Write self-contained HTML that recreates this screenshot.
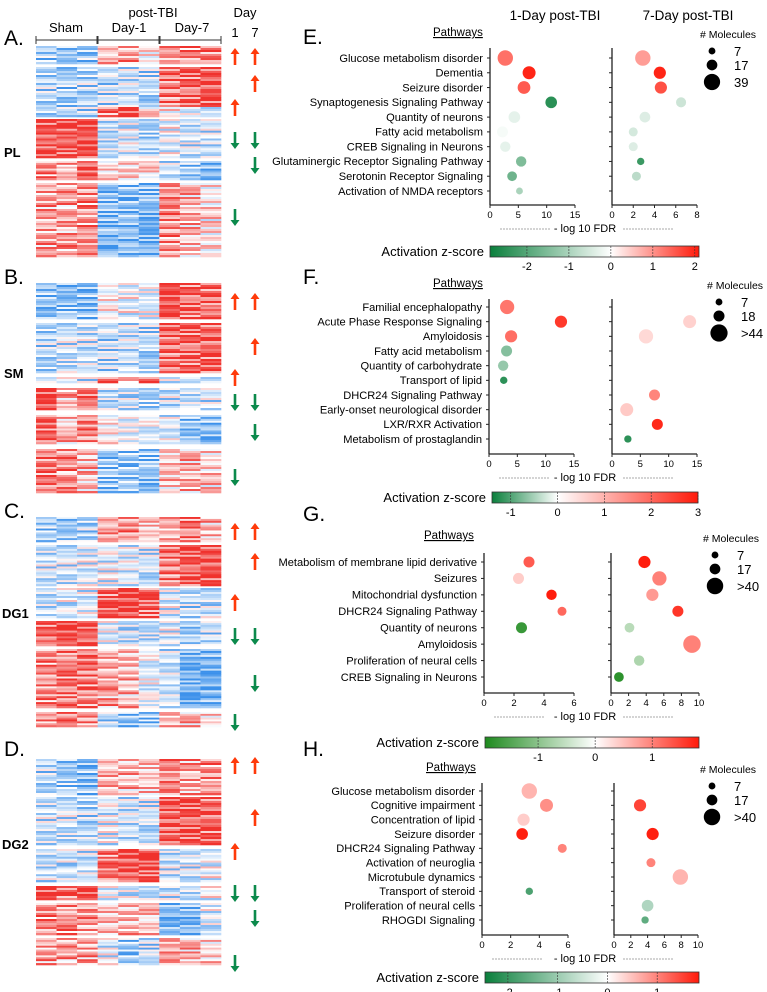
<!DOCTYPE html>
<html><head><meta charset="utf-8">
<style>
html,body{margin:0;padding:0;background:#fff;}
svg{display:block;font-family:"Liberation Sans",Arial,sans-serif;}
</style></head>
<body>
<svg id="fig" width="767" height="992" viewBox="0 0 767 992" xmlns="http://www.w3.org/2000/svg">
<defs>
<linearGradient id="cbE" x1="0" x2="1"><stop offset="0" stop-color="#0a7f3c"/><stop offset="0.578" stop-color="#ffffff"/><stop offset="1" stop-color="#ff1a0a"/></linearGradient>
<linearGradient id="cbF" x1="0" x2="1"><stop offset="0" stop-color="#0a7f3c"/><stop offset="0.318" stop-color="#ffffff"/><stop offset="1" stop-color="#ff1a0a"/></linearGradient>
<linearGradient id="cbG" x1="0" x2="1"><stop offset="0" stop-color="#1e8a1e"/><stop offset="0.515" stop-color="#ffffff"/><stop offset="1" stop-color="#ff1a0a"/></linearGradient>
<linearGradient id="cbH" x1="0" x2="1"><stop offset="0" stop-color="#0a7f3c"/><stop offset="0.572" stop-color="#ffffff"/><stop offset="1" stop-color="#ff1a0a"/></linearGradient>
</defs>
</svg>
<script>
// ===== Heatmap data: blocks [y0, y1, 9 column values (-1 blue .. 1 red)] =====
const hmA = [[46,64,[-.5,-.5,-.5,.4,.4,.1,.4,.5,.6]],[67,107,[-.4,-.5,-.4,-.4,-.3,-.4,.6,.7,.8]],[107,117,[-.4,-.4,-.4,.6,.8,.2,.1,-.2,-.2]],[119,158,[.8,.8,.8,-.3,-.2,-.4,-.1,-.3,-.3]],[161,180,[.5,.4,.7,.2,.2,.2,-.3,-.5,-.7]],[183,257,[.4,.4,.5,-.7,-.6,-.7,.5,.3,.1]]];
const hmB = [[283,319,[-.6,-.6,-.6,.1,-.1,-.1,.8,.7,.7]],[323,373,[-.4,-.3,-.3,-.4,-.3,-.4,.7,.7,.7]],[377,383,[-.3,-.2,-.3,.6,.3,.8,-.2,-.2,-.2]],[388,410,[.9,.3,.6,-.3,-.3,-.4,-.3,-.3,-.3]],[415,444,[.7,.3,.5,.1,-.1,-.1,-.2,-.6,-.6]],[449,493,[.6,.5,.3,-.6,-.5,-.6,.2,.3,.2]]];
const hmC = [[517,542,[-.5,-.5,-.4,.5,.5,.3,.3,.6,.3]],[545,586,[-.3,-.3,-.2,-.2,-.2,-.3,.6,.8,.8]],[588,618,[-.3,-.2,-.2,.7,.9,.7,-.2,-.4,-.3]],[621,646,[.7,.9,.7,-.1,-.3,-.3,-.2,-.5,-.4]],[649,708,[.5,.6,.6,.4,.3,-.1,-.3,-.8,-.7]],[712,727,[.5,.6,.5,-.4,-.6,-.6,.3,.3,.2]]];
const hmD = [[759,795,[-.4,-.5,-.6,.4,.3,.3,.5,.4,.5]],[797,845,[-.3,-.3,-.4,-.2,-.3,-.3,.8,.8,.7]],[849,882,[-.3,-.3,-.3,.6,.8,.8,-.3,-.3,-.1]],[886,900,[.9,.6,.8,-.1,-.2,-.3,-.3,-.3,-.1]],[903,935,[.5,.5,.4,.3,.3,.3,-.7,-.7,-.2]],[938,965,[.4,.4,.4,-.2,-.5,-.4,.4,.3,.2]]];
// arrows: [y, dayColumn(1|7), dir(1 up,-1 down)]
const arA = [[57,1,1],[57,7,1],[84,7,1],[108,1,1],[140,1,-1],[140,7,-1],[165,7,-1],[217,1,-1]];
const arB = [[302,1,1],[302,7,1],[347,7,1],[378,1,1],[402,1,-1],[402,7,-1],[432,7,-1],[477,1,-1]];
const arC = [[532,1,1],[532,7,1],[562,7,1],[603,1,1],[636,1,-1],[636,7,-1],[683,7,-1],[722,1,-1]];
const arD = [[766,1,1],[766,7,1],[818,7,1],[852,1,1],[893,1,-1],[893,7,-1],[918,7,-1],[963,1,-1]];

// ===== Bubble chart data =====
const eLabels = ["Glucose metabolism disorder","Dementia","Seizure disorder","Synaptogenesis Signaling Pathway","Quantity of neurons","Fatty acid metabolism","CREB Signaling in Neurons","Glutaminergic Receptor Signaling Pathway","Serotonin Receptor Signaling","Activation of NMDA receptors"];
const eFdr1 = [2.7,6.9,6.0,10.8,4.3,2.2,2.7,5.5,3.9,5.2];
const eZ1 = [1.3,2.0,1.5,-2.5,-0.3,-0.1,-0.3,-1.5,-1.7,-1.0];
const eN1 = [35,25,24,20,20,18,16,16,14,7];
const eFdr7 = [2.9,4.5,4.6,6.5,3.1,2.0,2.0,2.7,2.3,null];
const eZ7 = [0.9,2.0,1.6,-0.6,-0.4,-0.5,-0.4,-2.3,-0.8,null];
const eN7 = [35,22,22,15,17,12,12,8,12,null];

const fLabels = ["Familial encephalopathy","Acute Phase Response Signaling","Amyloidosis","Fatty acid metabolism","Quantity of carbohydrate","Transport of lipid","DHCR24 Signaling Pathway","Early-onset neurological disorder","LXR/RXR Activation","Metabolism of prostaglandin"];
const fFdr1 = [3.2,12.7,3.9,3.1,2.5,2.6,null,null,null,null];
const fZ1 = [1.8,2.6,1.9,-0.7,-0.6,-1.2,null,null,null,null];
const fN1 = [30,22,22,18,16,8,null,null,null,null];
const fFdr7 = [null,13.7,6.0,null,null,null,7.5,2.6,8.0,2.8];
const fZ7 = [null,0.6,0.5,null,null,null,1.6,0.7,2.8,-1.2];
const fN7 = [null,25,30,null,null,null,18,25,18,8];

const gLabels = ["Metabolism of membrane lipid derivative","Seizures","Mitochondrial dysfunction","DHCR24 Signaling Pathway","Quantity of neurons","Amyloidosis","Proliferation of neural cells","CREB Signaling in Neurons"];
const gFdr1 = [3.0,2.3,4.5,5.2,2.5,null,null,null];
const gZ1 = [1.3,0.4,1.8,1.2,-1.7,null,null,null];
const gN1 = [18,18,16,12,18,null,null,null];
const gFdr7 = [3.8,5.5,4.7,7.6,2.1,9.2,3.2,0.9];
const gZ7 = [1.8,1.0,0.8,1.6,-0.6,1.0,-0.7,-1.8];
const gN7 = [22,30,22,18,14,45,16,14];

const hLabels = ["Glucose metabolism disorder","Cognitive impairment","Concentration of lipid","Seizure disorder","DHCR24 Signaling Pathway","Activation of neuroglia","Microtubule dynamics","Transport of steroid","Proliferation of neural cells","RHOGDI Signaling"];
const hFdr1 = [3.3,4.5,2.9,2.8,5.6,null,null,3.3,null,null];
const hZ1 = [0.6,0.9,0.4,1.8,1.0,null,null,-1.8,null,null];
const hN1 = [35,25,22,20,12,null,null,8,null,null];
const hFdr7 = [null,3.1,null,4.6,null,4.4,7.9,null,4.0,3.7];
const hZ7 = [null,1.5,null,1.8,null,1.0,0.6,null,-0.8,-1.6];
const hN7 = [null,22,null,22,null,12,35,null,20,8];

const eTicks1=[0,5,10,15], eTicks7=[0,2,4,6,8], eZt=[-2,-1,0,1,2];
const fTicks1=[0,5,10,15], fTicks7=[0,5,10,15], fZt=[-1,0,1,2,3];
const gTicks1=[0,2,4,6], gTicks7=[0,2,4,6,8,10], gZt=[-1,0,1];
const hTicks1=[0,2,4,6], hTicks7=[0,2,4,6,8,10], hZt=[-2,-1,0,1];
const eLegN=[7,17,39], eLegL=["7","17","39"];
const fLegN=[7,18,44], fLegL=["7","18",">44"];
const gLegN=[7,17,40], gLegL=["7","17",">40"];
const hLegN=[7,17,40], hLegL=["7","17",">40"];

const NS="http://www.w3.org/2000/svg";
const svg=document.getElementById('fig');
function el(tag,attrs,parent,txt){const e=document.createElementNS(NS,tag);for(const k in attrs)e.setAttribute(k,attrs[k]);if(txt!=null)e.textContent=txt;(parent||svg).appendChild(e);return e;}
function grp(name){const g=el('g',{},svg);return g;}
function mix(a,b,t){return 'rgb('+a.map((v,i)=>Math.round(v+(b[i]-v)*t)).join(',')+')';}

// ----- heatmaps -----
const HX0=36,HX1=221,CW=(HX1-HX0)/9;
const BLUE=[60,145,235],RED=[240,50,45],WH=[255,255,255];
function heat(v){return v<0?mix(WH,BLUE,Math.min(1,-v)):mix(WH,RED,Math.min(1,v));}
const stripe=[0,.3,-.25,.1,-.4,.35,-.05,.2,-.3,.15,-.1,.4,-.35,.05,.25,-.15,.45,-.2,.1];
function drawHeat(blocks,name){
  const g=grp(name);
  blocks.forEach((b,bi)=>{
    const rh=2;const n=Math.round((b[1]-b[0])/rh);
    for(let c=0;c<9;c++){
      for(let r=0;r<n;r++){
        const v=b[2][c]+stripe[(r*7+c*5+bi*3+(r>>2)*c)%stripe.length]*1.2;
        el('rect',{x:HX0+c*CW,y:b[0]+r*(b[1]-b[0])/n,width:CW+0.3,height:(b[1]-b[0])/n+0.3,fill:heat(v)},g);
      }
    }
  });
}
function arrow(g,y,col,dir){
  const x=col===1?235:255;const c=dir>0?'#ff3a0a':'#0c8a4c';
  const a=el('g',{},g);
  
  
  const h=8*dir;
  el('line',{x1:x,y1:y+h,x2:x,y2:y-h+3*dir,stroke:c,'stroke-width':2.6},a);
  el('polygon',{points:`${x-4.5},${y-h+5*dir} ${x+4.5},${y-h+5*dir} ${x},${y-h-1*dir}`,fill:c},a);
}
function drawArrows(list,name){const g=grp(name);list.forEach(a=>arrow(g,a[0],a[1],a[2]));}
drawHeat(hmA,'heatmap-pl');drawHeat(hmB,'heatmap-sm');drawHeat(hmC,'heatmap-dg1');drawHeat(hmD,'heatmap-dg2');
drawArrows(arA,'arrows-pl');drawArrows(arB,'arrows-sm');drawArrows(arC,'arrows-dg1');drawArrows(arD,'arrows-dg2');

// heatmap header
const hg=grp('heatmap-header');
el('text',{x:153,y:17,'font-size':13,'text-anchor':'middle'},hg,'post-TBI');
el('text',{x:66,y:32,'font-size':13,'text-anchor':'middle'},hg,'Sham');
el('text',{x:129,y:32,'font-size':13,'text-anchor':'middle'},hg,'Day-1');
el('text',{x:192,y:32,'font-size':13,'text-anchor':'middle'},hg,'Day-7');
el('text',{x:245,y:17,'font-size':13,'text-anchor':'middle'},hg,'Day');
el('text',{x:235,y:37,'font-size':13,'text-anchor':'middle'},hg,'1');
el('text',{x:255,y:37,'font-size':13,'text-anchor':'middle'},hg,'7');
[[36,97],[98,159],[160,221]].forEach(s=>{el('line',{x1:s[0],y1:40,x2:s[1],y2:40,stroke:'#333','stroke-width':1},hg);el('line',{x1:s[0],y1:36,x2:s[0],y2:44,stroke:'#333'},hg);el('line',{x1:s[1],y1:36,x2:s[1],y2:44,stroke:'#333'},hg);});
[['A.',4,45],['B.',4,284],['C.',4,518],['D.',4,756],['E.',303,44],['F.',303,284],['G.',303,521],['H.',303,756]].forEach(p=>{const t=el('text',{x:p[1],y:p[2],'font-size':21},svg,p[0]);});
[['PL',4,157],['SM',4,378],['DG1',2,618],['DG2',2,849]].forEach(p=>{const t=el('text',{x:p[1],y:p[2],'font-size':13,'font-weight':'bold'},svg,p[0]);});
const th=grp('column-titles');
el('text',{x:555,y:20,'font-size':13.5,'text-anchor':'middle'},th,'1-Day post-TBI');
el('text',{x:688,y:20,'font-size':13.5,'text-anchor':'middle'},th,'7-Day post-TBI');

// ----- bubble charts -----
function rad(n){return 1.3*Math.sqrt(n);}
function zcol(z,zmin,zmax,green){const GR=green||[10,127,60],RD=[255,26,10];return z<0?mix(WH,GR,Math.min(1,z/zmin)):mix(WH,RD,Math.min(1,z/zmax));}
function panel(o){
  const g=grp(o.name);
  const n=o.labels.length;
  const ys=i=>o.yFirst+i*(o.yLast-o.yFirst)/(n-1);
  const pw=el('text',{x:o.pwX,y:o.pwY,'font-size':11.5,'text-decoration':'underline'},g,'Pathways');
  
  o.labels.forEach((l,i)=>{const t=el('text',{x:o.ax1-7,y:ys(i)+3.8,'font-size':11.1,'text-anchor':'end'},g,l);});
  [[o.ax1,o.end1,o.max1,o.fdr1,o.z1,o.n1,o.ticks1,'left'],[o.ax7,o.end7,o.max7,o.fdr7,o.z7,o.n7,o.ticks7,'right']].forEach(s=>{
    const [x0,x1,mx,fdr,zz,nn,ticks,side]=s;
    const sx=v=>x0+v*(x1-x0)/mx;
    const ag=el('g',{},g);
    el('line',{x1:x0,y1:o.top,x2:x0,y2:o.bot,stroke:'#222','stroke-width':1.3},ag);
    el('line',{x1:x0,y1:o.bot,x2:x1,y2:o.bot,stroke:'#222','stroke-width':1.3},ag);
    o.labels.forEach((l,i)=>el('line',{x1:x0-3,y1:ys(i),x2:x0,y2:ys(i),stroke:'#222'},ag));
    ticks.forEach(t=>{el('line',{x1:sx(t),y1:o.bot,x2:sx(t),y2:o.bot+3,stroke:'#222'},ag);el('text',{x:sx(t),y:o.bot+13,'font-size':9.5,'text-anchor':'middle'},ag,String(t));});
    fdr.forEach((v,i)=>{if(v==null)return;const c=el('circle',{cx:sx(v),cy:ys(i),r:rad(nn[i]),fill:zcol(zz[i],o.zmin,o.zmax,o.green)},g);
      });
  });
  const fy=o.bot+27;
  el('line',{x1:o.ax1+10,y1:fy-3,x2:o.ax1+60,y2:fy-3,stroke:'#aaa','stroke-dasharray':'2,1'},g);
  el('line',{x1:o.fdrX+38,y1:fy-3,x2:o.fdrX+88,y2:fy-3,stroke:'#aaa','stroke-dasharray':'2,1'},g);
  const fl=el('text',{x:o.fdrX,y:fy,'font-size':11,'text-anchor':'middle'},g,'- log 10 FDR');
  // colorbar
  const cg=el('g',{},g);
  el('text',{x:o.cbX0-6,y:o.cbY+10,'font-size':13,'text-anchor':'end'},cg,'Activation z-score');
  el('rect',{x:o.cbX0,y:o.cbY,width:o.cbX1-o.cbX0,height:11,fill:'url(#'+o.grad+')',stroke:'#333','stroke-width':0.8},cg);
  const zx=z=>o.cbX0+(z-o.zmin)*(o.cbX1-o.cbX0)/(o.zmax-o.zmin);
  o.zt.forEach(z=>{el('line',{x1:zx(z),y1:o.cbY,x2:zx(z),y2:o.cbY+11,stroke:'#333','stroke-width':0.6,'stroke-dasharray':'2,1'},cg);el('text',{x:zx(z),y:o.cbY+24,'font-size':11,'text-anchor':'middle'},cg,String(z));});
  // legend
  const lg=el('g',{},g);
  el('text',{x:o.legX,y:o.legY,'font-size':10.5},lg,'# Molecules');
  o.legN.forEach((v,i)=>{const cy=o.legY+13+i*(i===2?15:14)+(i===2?1:0);el('circle',{cx:o.legX+12,cy:cy,r:rad(v),fill:'#000'},lg);el('text',{x:o.legX+34,y:cy+5,'font-size':13},lg,o.legL[i]);});
}
panel({name:'panel-e-pl',labels:eLabels,fdr1:eFdr1,z1:eZ1,n1:eN1,fdr7:eFdr7,z7:eZ7,n7:eN7,ticks1:eTicks1,ticks7:eTicks7,max1:15,max7:8,
  ax1:490,end1:575,ax7:612,end7:697,yFirst:58,yLast:191,top:48,bot:205,pwX:433,pwY:36,fdrX:585,
  cbX0:490,cbX1:699,cbY:246,zmin:-2.88,zmax:2.1,zt:eZt,grad:'cbE',legX:700,legY:38,legN:eLegN,legL:eLegL});
panel({name:'panel-f-sm',labels:fLabels,fdr1:fFdr1,z1:fZ1,n1:fN1,fdr7:fFdr7,z7:fZ7,n7:fN7,ticks1:fTicks1,ticks7:fTicks7,max1:15,max7:15,
  ax1:489,end1:574,ax7:612,end7:697,yFirst:307,yLast:439,top:299,bot:454,pwX:433,pwY:287,fdrX:585,
  cbX0:492,cbX1:698,cbY:492,zmin:-1.4,zmax:3,zt:fZt,grad:'cbF',legX:707,legY:289,legN:fLegN,legL:fLegL});
panel({name:'panel-g-dg1',labels:gLabels,fdr1:gFdr1,z1:gZ1,n1:gN1,fdr7:gFdr7,z7:gZ7,n7:gN7,ticks1:gTicks1,ticks7:gTicks7,max1:6,max7:10,
  ax1:484,end1:574,ax7:611,end7:699,yFirst:562,yLast:677,top:553,bot:693,pwX:424,pwY:539,fdrX:585,
  cbX0:485,cbX1:699,cbY:737,zmin:-1.93,zmax:1.82,zt:gZt,grad:'cbG',legX:703,legY:542,legN:gLegN,legL:gLegL,green:[30,138,30]});
panel({name:'panel-h-dg2',labels:hLabels,fdr1:hFdr1,z1:hZ1,n1:hN1,fdr7:hFdr7,z7:hZ7,n7:hN7,ticks1:hTicks1,ticks7:hTicks7,max1:6,max7:10,
  ax1:482,end1:568,ax7:614,end7:698,yFirst:791,yLast:920,top:783,bot:935,pwX:426,pwY:771,fdrX:585,
  cbX0:485,cbX1:699,cbY:972,zmin:-2.46,zmax:1.84,zt:hZt,grad:'cbH',legX:700,legY:773,legN:hLegN,legL:hLegL});
</script>
</body></html>
